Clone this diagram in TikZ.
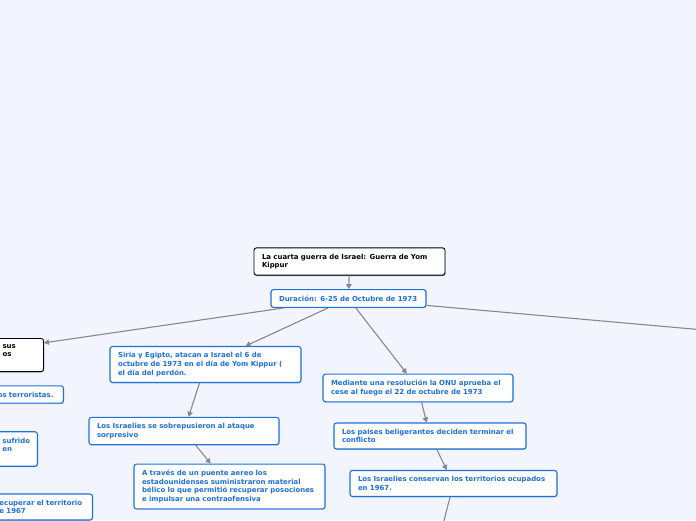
\documentclass[tikz,border=0pt]{standalone}
\usepackage{fontspec}
\setmainfont{DejaVu Sans}
\usepackage{tikz}
\usetikzlibrary{arrows.meta, shadows}
\definecolor{mapbg}{RGB}{242, 245, 253}
\definecolor{topicblue}{RGB}{30, 112, 218}
\definecolor{linkgray}{RGB}{136, 136, 140}
\tikzset{
	topic/.style={draw=topicblue, fill=white, text=topicblue, line width=1.1pt,
		rounded corners=2.5pt, align=left, inner xsep=8pt, inner ysep=6pt,
		font=\fontsize{6.95}{8.6}\selectfont\bfseries,
		drop shadow={shadow xshift=0.4pt, shadow yshift=-0.9pt, fill=topicblue, opacity=0.35}},
	central/.style={topic, draw=black, text=black, line width=0.9pt,
		drop shadow={shadow xshift=0.4pt, shadow yshift=-0.9pt, fill=black, opacity=0.25}},
	link/.style={draw=linkgray, line width=1.1pt, -{Triangle[width=5.5pt,length=5pt]}},
	plainlink/.style={draw=linkgray, line width=1.1pt}
}

\begin{document}
\begin{tikzpicture}[x=1pt, y=-1pt]
		\clip (0,0) rectangle (696,520);
		\fill[mapbg] (0,0) rectangle (696,520);

		% main topic
		\node[central, text width=175pt] (guerra) at (349.5,261.5)
			{La cuarta guerra de Israel: Guerra de Yom\\Kippur};
		\node[topic, text width=139pt] (duracion) at (348.5,298.5)
			{Duración: 6-25 de Octubre de 1973};

		% left branches (cut by the page edge)
		\node[central, text width=33pt, anchor=east] (vecinos) at (44,355)
			{sus\\os\\~};
		\node[topic, text width=61pt, anchor=east] (terror) at (64,394.5)
			{tos~terroristas.};
		\node[topic, text width=27pt, anchor=east] (sufrido) at (38,449)
			{sufrido\\en\\~};
		\node[topic, text width=85pt, anchor=east] (recuperar) at (93,507)
			{ecuperar~el~territorio\\e 1967};

		% middle branch
		\node[topic, text width=175pt] (siria) at (205.5,364.5)
			{Siria y Egipto, atacan a Israel el 6 de\\octubre de 1973 en el día de Yom Kippur (\\el día del perdón.};
		\node[topic, text width=174pt] (sobre) at (184,431)
			{Los Israelies se sobrepusieron al ataque\\sorpresivo};
		\node[topic, text width=175pt] (puente) at (229.5,486.5)
			{A través de un puente aereo los\\estadounidenses suministraron material\\bélico lo que permitió recuperar posociones\\e impulsar una contraofensiva};

		% right branch
		\node[topic, text width=174pt] (onu) at (418,388)
			{Mediante una resolución la ONU aprueba el\\cese al fuego el 22 de octubre de 1973};
		\node[topic, text width=176pt] (paises) at (430,436)
			{Los paises beligerantes deciden terminar el\\conflicto};
		\node[topic, text width=191pt] (conservan) at (453.5,483.5)
			{Los Israelies conservan los territorios ocupados\\en 1967.};

		\coordinate (farright) at (800,338.5);
		\coordinate (fardown) at (439,540);

		\draw[link] (guerra) -- (duracion);
		\draw[link] (duracion) -- (vecinos.26);
		\draw[link] (duracion) -- (siria);
		\draw[link] (duracion) -- (onu);
		\draw[plainlink] (duracion) -- (farright);
		\draw[link] (siria) -- (sobre);
		\draw[link] (sobre) -- (puente);
		\draw[link] (onu) -- (paises);
		\draw[link] (paises) -- (conservan);
		\draw[plainlink] (conservan) -- (fardown);
	\end{tikzpicture}
\end{document}
